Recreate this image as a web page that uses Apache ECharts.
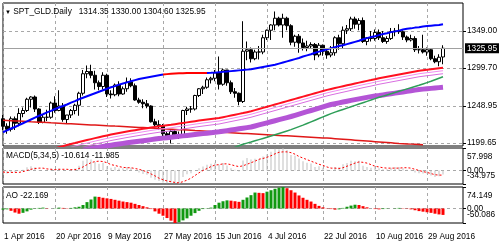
<!DOCTYPE html>
<html><head><meta charset="utf-8">
<script src="https://cdn.jsdelivr.net/npm/echarts@6/dist/echarts.min.js"></script>
<style>html,body{margin:0;padding:0;background:#fff}#c{width:500px;height:249px}</style>
</head><body><div id="c"></div>
<script>
// ---- categories (trading days) ----
const monthDays = [
  ['Apr',[1,4,5,6,7,8,11,12,13,14,15,18,19,20,21,22,25,26,27,28,29]],
  ['May',[2,3,4,5,6,9,10,11,12,13,16,17,18,19,20,23,24,25,26,27,30,31]],
  ['Jun',[1,2,3,6,7,8,9,10,13,14,15,16,17,20,21,22,23,24,27,28,29,30]],
  ['Jul',[1,4,5,6,7,8,11,12,13,14,15,18,19,20,21,22,25,26,27,28,29]],
  ['Aug',[1,2,3,4,5,8,9,10,11,12,15,16,17,18,19,22,23,24,25,26,29,30,31]],
  ['Sep',[1,2]]
];
const emptySlots = 5;
const dateLabelIdx = [0,13,26,40,53,66,80,93,106];

// ---- candles [open, high, low, close] ----
const candles = [
[1232,1237,1217,1222],[1222,1226,1212,1218],[1218,1235,1215,1232],[1232,1235,1217,1226],[1226,1246,1222,1239],
[1239,1247,1234,1243],[1243,1260,1241,1258],[1258,1262,1247,1261],[1261,1263,1241,1245],[1245,1246,1225,1227],
[1227,1237,1226,1234],[1234,1244,1229,1234],[1234,1255,1232,1253],[1253,1262,1240,1243],[1243,1270,1242,1249],
[1249,1253,1228,1231],[1231,1237,1226,1237],[1237,1245,1233,1243],[1243,1252,1238,1250],[1250,1268,1236,1266],
[1266,1297,1263,1292],[1292,1303,1286,1295],[1295,1304,1286,1290],[1290,1296,1271,1280],[1280,1283,1270,1275],
[1275,1294,1271,1290],[1290,1292,1261,1265],[1265,1270,1259,1264],[1264,1279,1262,1277],[1277,1282,1262,1265],
[1265,1275,1264,1272],[1272,1287,1268,1281],[1281,1286,1274,1276],[1276,1279,1256,1257],[1257,1260,1252,1254],
[1254,1258,1246,1252],[1252,1257,1246,1249],[1249,1250,1227,1228],[1228,1232,1221,1224],[1224,1230,1217,1222],
[1222,1225,1205,1212],[1212,1215,1206,1208],[1208,1217,1199,1215],[1215,1218,1208,1211],[1211,1215,1205,1210],
[1210,1244,1207,1243],[1243,1248,1237,1245],[1245,1249,1240,1245],[1245,1264,1243,1263],[1263,1273,1261,1272],
[1272,1276,1265,1274],[1274,1287,1272,1284],[1284,1288,1279,1286],[1286,1297,1282,1293],[1293,1315,1271,1278],
[1278,1299,1276,1297],[1297,1297,1276,1280],[1280,1283,1265,1268],[1268,1273,1260,1266],[1266,1267,1250,1255],
[1255,1362,1253,1322],[1322,1335,1310,1324],[1324,1327,1307,1312],[1312,1324,1310,1321],[1321,1329,1311,1321],
[1321,1344,1318,1340],[1340,1351,1337,1350],[1350,1358,1337,1357],[1357,1375,1350,1366],[1366,1368,1355,1357],
[1357,1372,1340,1366],[1366,1368,1350,1356],[1356,1358,1330,1334],[1334,1344,1328,1342],[1342,1345,1320,1333],
[1333,1339,1323,1327],[1327,1336,1322,1329],[1329,1334,1325,1331],[1331,1333,1310,1317],[1317,1333,1314,1330],
[1330,1331,1316,1322],[1322,1324,1312,1317],[1317,1329,1314,1320],[1320,1342,1316,1340],[1340,1344,1324,1332],
[1332,1355,1326,1350],[1350,1357,1345,1352],[1352,1368,1349,1365],[1365,1368,1352,1358],[1358,1366,1350,1363],
[1363,1367,1333,1335],[1335,1341,1330,1340],[1340,1349,1335,1339],[1339,1351,1336,1347],[1347,1351,1337,1340],
[1340,1349,1333,1335],[1335,1342,1332,1339],[1339,1353,1337,1348],[1348,1353,1342,1349],[1349,1358,1345,1348],
[1348,1350,1337,1341],[1341,1343,1334,1337],[1337,1344,1335,1339],[1339,1342,1321,1324],[1324,1329,1319,1324],
[1324,1344,1319,1321],[1321,1327,1316,1324],[1324,1326,1310,1312],[1312,1316,1306,1308],[1308,1318,1302,1314],
[1314.35,1330.00,1304.60,1325.95]
];

// ---- moving averages (main window) ----
const blueMA = [
1214,1216.5,1219,1221,1223.5,1226,1228.5,1231,1233.5,1236,
1238,1240.5,1242.5,1245,1247,1249,1251,1253.5,1255.5,1258,
1260,1262,1264,1266,1268,1270,1272,1274,1275.5,1277.5,
1279,1280.5,1282,1283.5,1285,1286,1287,1288,1289,1290,
1291,1291.5,1292,1292.3,1292.6,1292.8,1293,1293,1293,1293,
1293,1293,1293.2,1293.5,1294,1294.5,1295,1295.5,1296,1296.5,
1297,1297.5,1298,1299,1300,1301,1302,1303,1304,1305.5,
1307,1308.5,1310,1311.5,1313,1315,1316.5,1318,1320,1321.5,
1323,1324.5,1326,1327.5,1329,1330,1331.5,1333,1334.5,1336,
1338,1339.5,1341,1342,1343.5,1345,1346,1347.5,1348.5,1349.5,
1351,1352,1352.5,1353.5,1354,1355,1355.5,1356,1356.5,1357,1358];
const blueRedFrom = 40, blueRedTo = 51;

const redLong = [
1230,1229.7,1229.4,1229.1,1228.9,1228.6,1228.3,1228,1227.8,1227.5,
1227.2,1226.9,1226.6,1226.4,1226.1,1225.8,1225.5,1225.3,1225,1224.7,
1224.4,1224.1,1223.8,1223.6,1223.3,1223,1222.7,1222.5,1222.2,1222,
1221.7,1221.4,1221.1,1220.8,1220.5,1220.2,1219.9,1219.6,1219.3,1219,
1218.7,1218.4,1218.1,1217.8,1217.5,1217.2,1216.9,1216.6,1216.2,1215.9,
1215.6,1215.3,1214.9,1214.6,1214.3,1214,1213.7,1213.4,1213.1,1212.8,
1212.5,1212.2,1211.9,1211.6,1211.3,1211,1210.7,1210.4,1210.1,1209.8,
1209.5,1209.2,1208.9,1208.6,1208.3,1208,1207.7,1207.4,1207.1,1206.8,
1206.5,1206.2,1205.9,1205.5,1205.1,1204.7,1204.3,1203.9,1203.5,1203.1,
1202.7,1202.3,1201.9,1201.5,1201.1,1200.7,1200.3,1199.9,1199.5,1199.1,
1198.8,1198.5,1198.2,1197.9,1197.6,1197.3];

const ribbonStart = 10;
const ribbonRed = [
1188,1189.5,1191,1192.5,1194,1195.5,1197,1198.3,1199.6,1201,
1202.3,1203.6,1204.9,1206.2,1207.4,1208.6,1209.8,1211,1212,1213,
1214,1215,1215.9,1216.8,1217.7,1218.6,1219.5,1220.4,1221.2,1222,
1222.6,1223.3,1224,1224.8,1225.6,1226.4,1227.2,1228,1228.8,1229.6,
1230.3,1231,1231.7,1232.4,1233,1234.1,1235.2,1236.3,1237.4,1238.5,
1239.6,1240.8,1242,1243.5,1245,1246.5,1248,1249.5,1251,1252.5,
1254,1255.5,1257,1258.5,1260,1261.5,1263,1264.5,1266,1267.5,
1269,1270.5,1271.8,1273,1274.2,1275.4,1276.6,1277.8,1279,1280.2,
1281.4,1282.5,1283.6,1284.8,1286,1287,1288,1289,1290,1291,
1292,1293,1294,1295,1296,1296.7,1297.4,1298,1298.7,1299.4,1300];
const ribbonPinkA = [
1184,1185.5,1187,1188.5,1190,1191.5,1193,1194.3,1195.6,1197,
1198.3,1199.6,1200.9,1202.2,1203.4,1204.6,1205.8,1207,1208,1209,
1210,1211,1211.9,1212.8,1213.7,1214.6,1215.5,1216.4,1217.2,1218,
1218.6,1219.3,1220,1220.8,1221.6,1222.4,1223.2,1224,1224.8,1225.6,
1226.3,1227,1227.7,1228.4,1229,1230.1,1231.2,1232.3,1233.4,1234.5,
1235.6,1236.8,1238,1239.5,1241,1242.5,1244,1245.5,1247,1248.5,
1250,1251.5,1253,1254.5,1256,1257.5,1259,1260.5,1262,1263.5,
1265,1266.5,1267.8,1269,1270.2,1271.4,1272.6,1273.8,1275,1276.2,
1277.4,1278.5,1279.6,1280.8,1282,1283,1284,1285,1286,1287,
1288,1289,1290,1291,1292,1292.7,1293.4,1294,1294.7,1295.4,1296];
const ribbonPinkB = [
1180,1181.5,1183,1184.5,1186,1187.5,1189,1190.3,1191.6,1193,
1194.3,1195.6,1196.9,1198.2,1199.4,1200.6,1201.8,1203,1204,1205,
1206,1207,1207.9,1208.8,1209.7,1210.6,1211.5,1212.4,1213.2,1214,
1214.6,1215.3,1216,1216.8,1217.6,1218.4,1219.2,1220,1220.8,1221.6,
1222.3,1223,1223.7,1224.4,1225,1226.1,1227.2,1228.3,1229.4,1230.5,
1231.6,1232.8,1234,1235.5,1237,1238.5,1240,1241.5,1243,1244.5,
1246,1247.5,1249,1250.5,1252,1253.5,1255,1256.5,1258,1259.5,
1261,1262.5,1263.8,1265,1266.2,1267.4,1268.6,1269.8,1271,1272.2,
1273.4,1274.5,1275.6,1276.8,1278,1279,1280,1281,1282,1283,
1284,1285,1286,1287,1288,1288.7,1289.4,1290,1290.7,1291.4,1292];

const purpleStart = 20;
const purpleMA = [
1190,1191,1192,1193,1194,1195,1196,1196.8,1197.6,1198.4,
1199.2,1200,1200.7,1201.4,1202.1,1202.8,1203.5,1204.2,1204.9,1205.6,
1206.2,1206.8,1207.4,1208,1208.6,1209.2,1209.8,1210.4,1211,1211.6,
1212.2,1212.8,1213.4,1214,1214.6,1215.4,1216.2,1217,1217.8,1218.6,
1219.4,1220.2,1221,1222.4,1223.8,1225.2,1226.6,1228,1229.4,1230.8,
1232.2,1233.6,1235,1236.6,1238.2,1239.8,1241.4,1243,1244.6,1246.2,
1247.8,1249.4,1251,1252.1,1253.2,1254.3,1255.4,1256.5,1257.5,1258.5,
1259.5,1260.5,1261.5,1262.3,1263,1263.8,1264.6,1265.4,1266.2,1267,
1267.8,1268.6,1269.4,1270.2,1271,1271.5,1272,1272.5,1273,1273.5,1274];

const greenStart = 55;
const greenMA = [
1188,1190,1192,1194,1196,
1198,1199.5,1201,1202.6,1204.2,1205.8,1207.4,1209,1210.7,1212.4,
1214.1,1215.8,1217.5,1219.5,1221.5,1223.5,1225.7,1227.9,1230.1,1232.3,
1234.5,1236.7,1238.9,1240.8,1242.6,1244.4,1246.2,1248,1249.8,1251.6,
1253.4,1255.2,1257,1258.8,1260.6,1262.2,1263.8,1265.4,1267,1268.6,
1270.2,1271.8,1273.4,1275,1276.6,1278.4,1280.2,1282,1284,1286,1288];

// ---- MACD(5,34,5) ----
const macdMain = [
-6,-8,-5,-5,-1,2,8,11,8,1,
0,0,5,4,5,0,0,2,5,12,
25,30,28,22,17,20,11,7,9,5,
6,9,7,0,-5,-9,-11,-19,-24,-27,
-31,-33,-31,-32,-34.975,-17,-10,-7,0,6,
10,15,17,20,15,19,13,6,2,-3,
26,32,28,30,29,36,42,48,56,54,
57.998,53,40,38,31,24,20,18,9,11,
7,2,1,9,8,16,19,25,24,25,
12,9,7,9,6,3,3,7,9,9,
6,2,2,-5,-7,-8,-8,-13,-17,-15,-10.614];
const macdSignal = [
-4,-5,-5,-5,-5,-3,0,3,5,6,
6,4,3,2,3,3,3,2,2,5,
9,15,20,23,24,23,20,15,13,10,
8,7,7,5,3,0,-4,-9,-14,-20,
-24,-27,-29,-31,-32,-29,-25,-20,-13,-6,
0,5,10,14,15,17,17,15,12,10,
12,16,20,24,29,31,34,38,43,47,
48,48,46,42,36,32,28,24,20,16,
13,9,6,6,5,7,11,15,19,22,
21,19,15,11,9,7,6,6,6,6,
7,7,6,3,0,-3,-5,-8,-11,-12,-11.985];

// ---- Awesome Oscillator ----
const aoValues = [
-4,-3,-8,-14,-18,-15,-10,-4,-1,2,
3,1,0,1,3,2,1,2,4,6,
12,22,31,41,40,37,35,33,30,27,
24,22,20,16,12,8,4,-2,-10,-18,
-25,-33,-42,-50.086,-47,-41,-34,-25,-16,-8,
-2,1,3,12,20,25,28,27,25,23,
30,38,46,55,54,53,58,63,68,72,
74.149,70,63,55,45,37,30,24,16,9,
4,1,-2,-4,-3,2,6,10,13,12,
8,4,0,-2,-3,-2,-1,0,1,2,
1,-1,-3,-6,-9,-11,-13,-15,-18,-20.5,-22.169];

// ---- axis tick labels ----
const mainTicks = [1349.00, 1299.70, 1248.95, 1199.65];
const mainRange = [1195.7, 1386.3];
const macdRange = [-34.975, 57.998];
const aoRange = [-50.086, 74.149];
const zeroTick = [0];

// ================= build =================
const FONT = '"Liberation Sans", Arial, sans-serif';
const FS = 8.3;
const cats = [];
monthDays.forEach(([m, ds]) => ds.forEach(d => cats.push(d + ' ' + m + ' 2016')));
for (let k = 0; k < emptySlots; k++) cats.push('');
const isLbl = (i) => dateLabelIdx.indexOf(i) >= 0;
const pad = (start, arr) => new Array(start).fill(null).concat(arr);

const last = candles[candles.length - 1];
const blueOnly = blueMA.map((v, i) => (i > blueRedFrom && i < blueRedTo) ? null : v);
const blueRed = blueMA.map((v, i) => (i >= blueRedFrom && i <= blueRedTo) ? v : null);

const GL = 3, GW = 460;
const grids = [
  {left: GL, top: 3, width: GW, height: 143},
  {left: GL, top: 148, width: GW, height: 36},
  {left: GL, top: 187, width: GW, height: 36}
].map(g => Object.assign(g, {show: true, borderColor: '#000', borderWidth: 1, backgroundColor: '#fff'}));

const gridLine = {color: '#a8a8a8', type: [3, 3], width: 1};
const xAxes = [0, 1, 2].map(k => ({
  type: 'category', gridIndex: k, data: cats, boundaryGap: false,
  axisLine: {show: false}, axisTick: {show: false},
  axisLabel: {show: k === 2, interval: (i) => isLbl(i), align: 'left', padding: [0, 0, 0, 1],
    fontSize: FS, color: '#000', fontFamily: FONT, margin: 10},
  splitLine: {show: true, interval: (i) => isLbl(i), lineStyle: gridLine}
}));

function yAx(k, range, ticks, fmt, lh, split) {
  return {
    type: 'value', gridIndex: k, position: 'right', min: range[0], max: range[1],
    axisLine: {show: false},
    axisTick: {show: true, customValues: ticks, length: 3, lineStyle: {color: '#000'}},
    axisLabel: {customValues: ticks, formatter: fmt, fontSize: FS, color: '#000', fontFamily: FONT, margin: 4,
      lineHeight: lh, showMinLabel: true, showMaxLabel: true, hideOverlap: false},
    splitLine: {show: split, lineStyle: gridLine}
  };
}
// extreme labels of a sub window sit just inside its border
const edgeFmt = (range) => (v) => {
  if (Math.abs(v - range[1]) < 1e-6) return '\n' + v.toFixed(3);
  return v.toFixed(3) + '\n';
};
const zeroFmt = (v) => v.toFixed(2);
const yAxes = [
  yAx(0, mainRange, mainTicks, (v) => v.toFixed(2), 10, true),
  yAx(1, macdRange, zeroTick, zeroFmt, 10, true),
  yAx(2, aoRange, zeroTick, zeroFmt, 10, true),
  yAx(1, macdRange, [macdRange[1], macdRange[0]], edgeFmt(macdRange), 17, false),
  yAx(2, aoRange, [aoRange[1], aoRange[0]], edgeFmt(aoRange), 17, false)
];

function line(data, color, width, extra) {
  return Object.assign({
    type: 'line', xAxisIndex: 0, yAxisIndex: 0, data, symbol: 'none', showSymbol: false,
    lineStyle: {color, width}, itemStyle: {color}, silent: true, animation: false, z: 4, clip: true
  }, extra || {});
}

const series = [
  {
    type: 'candlestick', xAxisIndex: 0, yAxisIndex: 0, z: 3, silent: true, animation: false,
    data: candles.map(c => [c[0], c[3], c[2], c[1]]), barWidth: 3,
    itemStyle: {color: '#fff', color0: '#000', borderColor: '#000', borderColor0: '#000', borderWidth: 1},
    markLine: {
      symbol: ['none', 'none'], silent: true, animation: false,
      lineStyle: {color: '#a0a0a0', type: 'solid', width: 1},
      label: {show: true, position: 'end', formatter: () => last[3].toFixed(2), color: '#fff',
        backgroundColor: '#000', padding: [1, 2, 1, 2], fontSize: FS, fontFamily: FONT, distance: 2},
      data: [{yAxis: last[3]}]
    }
  },
  line(redLong, '#e01818', 1.5),
  line(pad(purpleStart, purpleMA), '#b455d6', 5),
  line(pad(ribbonStart, ribbonPinkB), '#d86ee0', 1),
  line(pad(ribbonStart, ribbonPinkA), '#f08cf0', 1),
  line(pad(greenStart, greenMA), '#2e9e58', 1.5),
  line(pad(ribbonStart, ribbonRed), '#ff1020', 2),
  line(blueOnly, '#0000ff', 2),
  line(blueRed, '#ff0000', 2),
  {type: 'bar', xAxisIndex: 1, yAxisIndex: 1, data: macdMain, barWidth: 1, silent: true, animation: false,
   itemStyle: {color: '#c0c0c0'}},
  line(macdSignal, '#ff0000', 1, {xAxisIndex: 1, yAxisIndex: 1, lineStyle: {color: '#ff0000', width: 1, type: [2, 2]}}),
  {type: 'bar', xAxisIndex: 2, yAxisIndex: 2, barWidth: 3, silent: true, animation: false,
   data: aoValues.map((v, i) => ({value: v, itemStyle: {color: (i === 0 || v >= aoValues[i - 1]) ? '#119911' : '#ff0000'}}))}
];

const tstyle = {fontSize: FS, fontWeight: 'normal', color: '#000', fontFamily: FONT,
  rich: {tri: {fontSize: 6, color: '#000', fontFamily: FONT}}};
const title = [
  {text: '{tri|▼} SPT_GLD.Daily   ' + last.map(v => v.toFixed(2)).join(' '), left: 5, top: 8, padding: 0, textStyle: tstyle},
  {text: 'MACD(5,34,5) ' + macdMain[macdMain.length - 1] + ' ' + macdSignal[macdSignal.length - 1], left: 6, top: 152, padding: 0, textStyle: tstyle},
  {text: 'AO ' + aoValues[aoValues.length - 1], left: 6, top: 192, padding: 0, textStyle: tstyle}
];

const chart = echarts.init(document.getElementById('c'));
chart.setOption({animation: false, backgroundColor: '#fff', title, grid: grids, xAxis: xAxes, yAxis: yAxes, series});
</script></body></html>
